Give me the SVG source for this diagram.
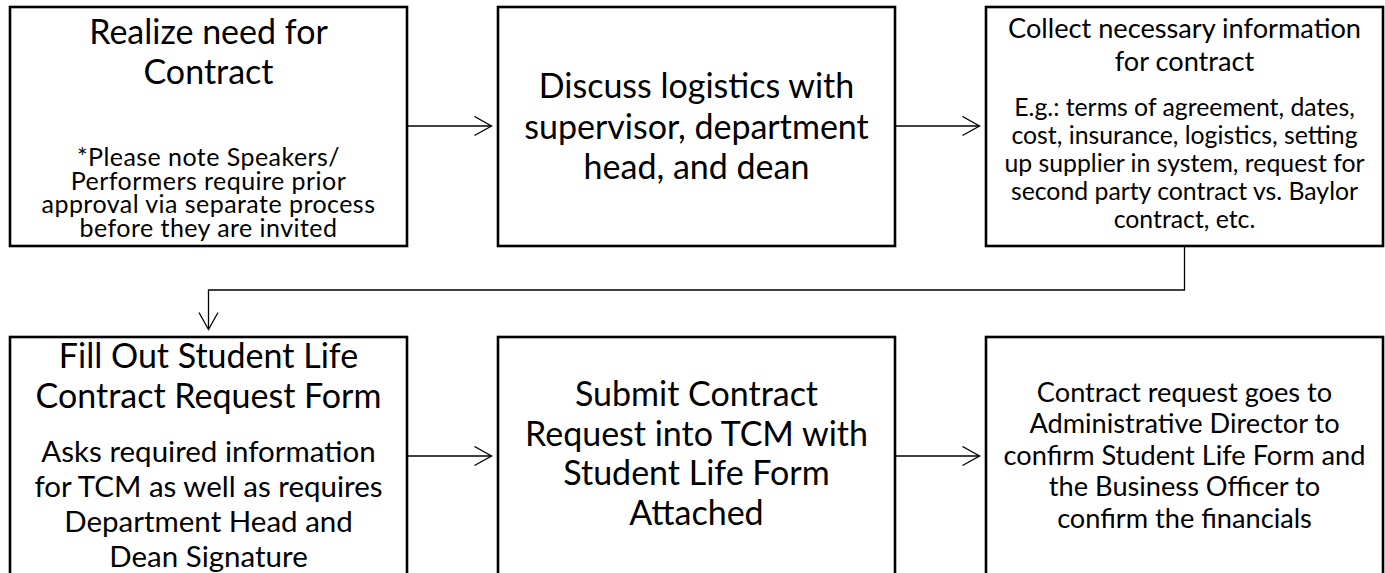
<svg xmlns="http://www.w3.org/2000/svg" width="1385" height="573" viewBox="0 0 1385 573">
<defs>
<style>
.box{fill:#fff;stroke:#000;stroke-width:2.6}
.t{font-family:Lato,"Liberation Sans",sans-serif;fill:#000;text-anchor:middle}
.h{font-size:34px}
.s1{font-size:25px;letter-spacing:0.45px}
.h3{font-size:27.2px}
.s3{font-size:24.8px}
.s4{font-size:29.5px}
.c{fill:none;stroke:#000;stroke-width:1.3}
</style>
<marker id="ah" markerUnits="userSpaceOnUse" markerWidth="20" markerHeight="22" refX="17.5" refY="10.5" orient="auto">
<path d="M0.5,1 L17.5,10.5 L0.5,20" fill="none" stroke="#000" stroke-width="1.3"/>
</marker>
</defs>
<rect width="1385" height="573" fill="#fff"/>
<g id="connectors">
<line class="c" x1="407" y1="126" x2="491.5" y2="126" marker-end="url(#ah)"/>
<line class="c" x1="895" y1="126" x2="979.5" y2="126" marker-end="url(#ah)"/>
<polyline class="c" points="1184.5,246 1184.5,290 208.5,290 208.5,329.5" marker-end="url(#ah)"/>
<line class="c" x1="407" y1="456" x2="491.5" y2="456" marker-end="url(#ah)"/>
<line class="c" x1="895" y1="456" x2="979.5" y2="456" marker-end="url(#ah)"/>
</g>
<g id="node1">
<rect class="box" x="10" y="7" width="397" height="239"/>
<text class="t h"><tspan x="208.5" y="43.5">Realize need for</tspan><tspan x="208.5" y="84">Contract</tspan></text>
<text class="t s1"><tspan x="208.5" y="166">*Please note Speakers/</tspan><tspan x="208.5" y="189.5">Performers require prior</tspan><tspan x="208.5" y="213">approval via separate process</tspan><tspan x="208.5" y="236.5">before they are invited</tspan></text>
</g>
<g id="node2">
<rect class="box" x="498" y="7" width="397" height="239"/>
<text class="t h"><tspan x="696.5" y="97.5">Discuss logistics with</tspan><tspan x="696.5" y="138.5">supervisor, department</tspan><tspan x="696.5" y="178.5">head, and dean</tspan></text>
</g>
<g id="node3">
<rect class="box" x="986" y="7" width="397" height="239"/>
<text class="t h3"><tspan x="1184.5" y="37.5">Collect necessary information</tspan><tspan x="1184.5" y="71">for contract</tspan></text>
<text class="t s3"><tspan x="1184.5" y="115.5">E.g.: terms of agreement, dates,</tspan><tspan x="1184.5" y="143.5">cost, insurance, logistics, setting</tspan><tspan x="1184.5" y="171.5">up supplier in system, request for</tspan><tspan x="1184.5" y="199.5">second party contract vs. Baylor</tspan><tspan x="1184.5" y="227.5">contract, etc.</tspan></text>
</g>
<g id="node4">
<rect class="box" x="10" y="337" width="397" height="239"/>
<text class="t h"><tspan x="208.5" y="368">Fill Out Student Life</tspan><tspan x="208.5" y="408">Contract Request Form</tspan></text>
<text class="t s4"><tspan x="208.5" y="462">Asks required information</tspan><tspan x="208.5" y="497">for TCM as well as requires</tspan><tspan x="208.5" y="532">Department Head and</tspan><tspan x="208.5" y="567">Dean Signature</tspan></text>
</g>
<g id="node5">
<rect class="box" x="498" y="337" width="397" height="239"/>
<text class="t h"><tspan x="696.5" y="406">Submit Contract</tspan><tspan x="696.5" y="445.5">Request into TCM with</tspan><tspan x="696.5" y="485">Student Life Form</tspan><tspan x="696.5" y="524.5">Attached</tspan></text>
</g>
<g id="node6">
<rect class="box" x="986" y="337" width="397" height="239"/>
<text class="t h3"><tspan x="1184.5" y="401.5">Contract request goes to</tspan><tspan x="1184.5" y="433">Administrative Director to</tspan><tspan x="1184.5" y="464.5">confirm Student Life Form and</tspan><tspan x="1184.5" y="496">the Business Officer to</tspan><tspan x="1184.5" y="527.5">confirm the financials</tspan></text>
</g>
</svg>
